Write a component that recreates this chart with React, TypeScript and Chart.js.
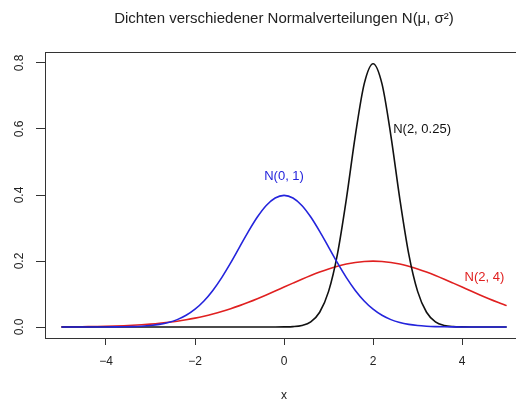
import React, { useEffect, useRef } from "react";
import { Chart, registerables } from "chart.js";

Chart.register(...registerables);

const xs = [
  -5, -4.8, -4.6, -4.4, -4.2, -4, -3.8, -3.6, -3.4, -3.2, -3, -2.8, -2.6, -2.4, -2.2, -2, -1.8, -1.6, -1.4, -1.2, -1,
  -0.8, -0.6, -0.4, -0.2, 0, 0.2, 0.4, 0.6, 0.8, 1, 1.2, 1.4, 1.6, 1.8, 2, 2.2, 2.4, 2.6, 2.8, 3, 3.2, 3.4, 3.6, 3.8,
  4, 4.2, 4.4, 4.6, 4.8, 5,
];

const densN01 = [
  0, 0, 0, 0, 0, 0.0001, 0.0003, 0.0006, 0.0012, 0.0024, 0.0044, 0.0079, 0.0136, 0.0224, 0.0355, 0.054, 0.079,
  0.1109, 0.1497, 0.1942, 0.242, 0.2897, 0.3332, 0.3683, 0.391, 0.3989, 0.391, 0.3683, 0.3332, 0.2897, 0.242, 0.1942,
  0.1497, 0.1109, 0.079, 0.054, 0.0355, 0.0224, 0.0136, 0.0079, 0.0044, 0.0024, 0.0012, 0.0006, 0.0003, 0.0001, 0, 0,
  0, 0, 0,
];

const densN2_025 = [
  0, 0, 0, 0, 0, 0, 0, 0, 0, 0, 0, 0, 0, 0, 0, 0, 0, 0, 0, 0, 0, 0, 0, 0, 0, 0.0003, 0.0012, 0.0048, 0.0158, 0.0448,
  0.108, 0.2218, 0.3884, 0.5794, 0.7366, 0.7979, 0.7366, 0.5794, 0.3884, 0.2218, 0.108, 0.0448, 0.0158, 0.0048,
  0.0012, 0.0003, 0, 0, 0, 0, 0,
];

const densN2_4 = [
  0.0004, 0.0006, 0.0009, 0.0012, 0.0016, 0.0022, 0.003, 0.004, 0.0052, 0.0068, 0.0088, 0.0112, 0.0142, 0.0177,
  0.022, 0.027, 0.0328, 0.0395, 0.047, 0.0555, 0.0648, 0.0749, 0.0857, 0.0971, 0.1089, 0.121, 0.133, 0.1448, 0.1561,
  0.1666, 0.176, 0.1841, 0.1907, 0.1955, 0.1985, 0.1995, 0.1985, 0.1955, 0.1907, 0.1841, 0.176, 0.1666, 0.1561,
  0.1448, 0.133, 0.121, 0.1089, 0.0971, 0.0857, 0.0749, 0.0648,
];

const xTicks = [-4, -2, 0, 2, 4];
const yTicks = [0, 0.2, 0.4, 0.6, 0.8];
const yTickLabels = ["0.0", "0.2", "0.4", "0.6", "0.8"];

const seriesNames = ["N(0, 1)", "N(2, 0.25)", "N(2, 4)"];
const seriesColors = ["#2424dc", "#111111", "#e02020"];
const labelX = [0, 3.1, 4.5];
const labelY = [0.455, 0.6, 0.15];

const titleText = "Dichten verschiedener Normalverteilungen N(\u03bc, \u03c3\u00b2)";
const xTitle = "x";

const FONT = "'Liberation Sans', Arial, Helvetica, sans-serif";

export default function App() {
  const ref = useRef<HTMLCanvasElement | null>(null);

  useEffect(() => {
    const canvas = ref.current;
    if (!canvas) return;

    const textPlugin = {
      id: "rstyle",
      afterDraw(chart: any) {
        const ctx = chart.ctx;
        const area = chart.chartArea;
        const xs_ = chart.scales.x;
        const ys_ = chart.scales.y;
        ctx.save();
        // top of box
        ctx.strokeStyle = "#333";
        ctx.lineWidth = 1;
        ctx.beginPath();
        ctx.moveTo(area.left, Math.round(area.top) + 0.5);
        ctx.lineTo(area.right, Math.round(area.top) + 0.5);
        ctx.stroke();

        // title
        ctx.fillStyle = "#222";
        ctx.font = `15px ${FONT}`;
        ctx.textAlign = "center";
        ctx.textBaseline = "middle";
        ctx.fillText(titleText, 284, 19);

        // x title
        ctx.font = `12px ${FONT}`;
        ctx.fillText(xTitle, 284, 396);

        // y tick labels rotated
        ctx.font = `12px ${FONT}`;
        ctx.fillStyle = "#222";
        yTicks.forEach((v, i) => {
          const py = ys_.getPixelForValue(v);
          ctx.save();
          ctx.translate(20, py);
          ctx.rotate(-Math.PI / 2);
          ctx.textAlign = "center";
          ctx.textBaseline = "middle";
          ctx.fillText(yTickLabels[i], 0, 0);
          ctx.restore();
        });

        // curve labels
        ctx.font = `13px ${FONT}`;
        seriesNames.forEach((name, i) => {
          ctx.fillStyle = seriesColors[i];
          ctx.textAlign = "center";
          ctx.textBaseline = "middle";
          ctx.fillText(name, xs_.getPixelForValue(labelX[i]), ys_.getPixelForValue(labelY[i]));
        });
        ctx.restore();
      },
    };

    const mk = (data: number[], color: string) => ({
      data: xs.map((x, i) => ({ x, y: data[i] })),
      borderColor: color,
      borderWidth: 1.6,
      pointRadius: 0,
      cubicInterpolationMode: "monotone" as const,
      fill: false,
    });

    const chart = new Chart(canvas, {
      type: "line",
      data: {
        datasets: [
          mk(densN01, seriesColors[0]),
          mk(densN2_025, seriesColors[1]),
          mk(densN2_4, seriesColors[2]),
        ],
      },
      options: {
        animation: false,
        responsive: false,
        maintainAspectRatio: false,
        layout: { padding: { top: 52, left: 0, right: 0, bottom: 0 } },
        plugins: { legend: { display: false }, tooltip: { enabled: false }, title: { display: false } },
        scales: {
          x: {
            type: "linear",
            min: -5.37,
            max: 5.21,
            afterBuildTicks: (s: any) => {
              s.ticks = xTicks.map((v) => ({ value: v }));
            },
            afterFit: (s: any) => {
              s.height = 65;
            },
            grid: { drawOnChartArea: false, drawTicks: true, tickLength: 7, color: "#333", lineWidth: 1 },
            border: { display: true, color: "#333", width: 1 },
            ticks: {
              font: { family: FONT, size: 12 },
              color: "#222",
              padding: 9,
              maxRotation: 0,
              autoSkip: false,
              callback: (v: any) => (Number(v) < 0 ? "\u2212" + Math.abs(Number(v)) : String(v)),
            },
          },
          y: {
            type: "linear",
            min: -0.0333,
            max: 0.8333,
            afterBuildTicks: (s: any) => {
              s.ticks = yTicks.map((v) => ({ value: v }));
            },
            afterFit: (s: any) => {
              s.width = 45;
            },
            grid: { drawOnChartArea: false, drawTicks: true, tickLength: 9, color: "#333", lineWidth: 1 },
            border: { display: true, color: "#333", width: 1 },
            ticks: { display: false },
          },
        },
      },
      plugins: [textPlugin],
    });

    return () => chart.destroy();
  }, []);

  return (
    <div style={{ position: "absolute", left: 0, top: 0, width: 516, height: 403, background: "#fff" }}>
      <canvas ref={ref} width={516} height={403} style={{ width: 516, height: 403, display: "block" }} />
    </div>
  );
}
